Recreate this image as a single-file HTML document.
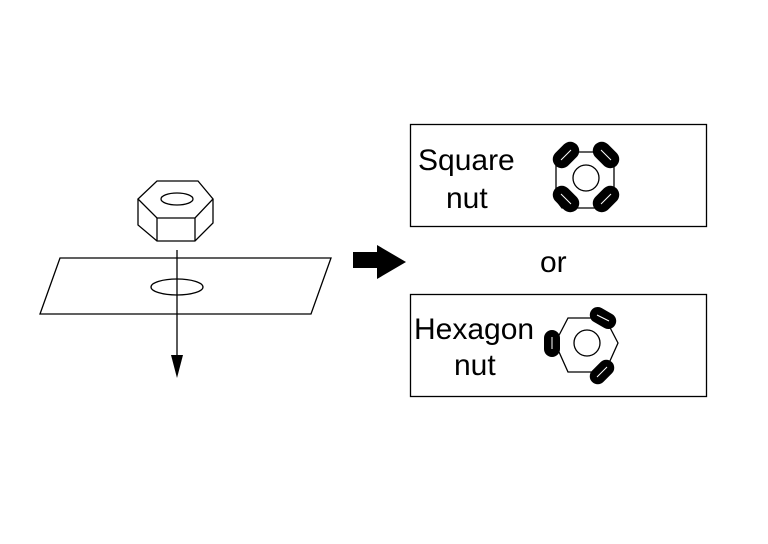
<!DOCTYPE html>
<html><head><style>
html,body{margin:0;padding:0;background:#fff;}
svg{display:block;}
text{font-family:"Liberation Sans",sans-serif;font-size:30px;fill:#000;}
</style></head><body>
<svg width="768" height="544" viewBox="0 0 768 544" xmlns="http://www.w3.org/2000/svg">
<rect width="768" height="544" fill="#fff"/>
<g fill="none" stroke="#000" stroke-width="1.3">
<polygon points="157,181 198,181 213,199 195,218 157,218 138,199" fill="#fff"/>
<polyline points="138,199 138,225 157,241 195,241 213,223 213,199"/>
<line x1="157" y1="218" x2="157" y2="241"/>
<line x1="195" y1="218" x2="195" y2="241"/>
<ellipse cx="177" cy="199" rx="16" ry="6"/>
<polygon points="60,258 331,258 311,314 40,314"/>
<ellipse cx="177" cy="287" rx="26" ry="8"/>
<line x1="177" y1="250" x2="177" y2="358"/>
<rect x="410.5" y="124.5" width="296" height="102"/>
<rect x="410.5" y="294.5" width="296" height="102"/>
<polygon points="562,152 606,152 614,162 614,200 606,208 562,208 556,200 556,162"/>
<circle cx="586" cy="178" r="13"/>
<polygon points="568,318 605,318 618,343 605,372 568,372 555,343"/>
<circle cx="587" cy="343" r="13"/>
</g>
<polygon points="171,355 183,355 177,378" fill="#000"/>
<polygon points="353,252 377,252 377,245 406,262 377,279 377,268 353,268" fill="#000"/>
<g fill="#000">
<rect x="551" y="146" width="30" height="18" rx="9" transform="rotate(-45 566 155)"/>
<rect x="591" y="146" width="30" height="18" rx="9" transform="rotate(45 606 155)"/>
<rect x="551" y="190" width="30" height="18" rx="9" transform="rotate(45 566 199)"/>
<rect x="591" y="190" width="30" height="18" rx="9" transform="rotate(-45 606 199)"/>
<rect x="589" y="310" width="28" height="16" rx="8" transform="rotate(30 603 318)"/>
<rect x="544" y="330" width="16" height="27" rx="8"/>
<rect x="588" y="364" width="28" height="16" rx="8" transform="rotate(-45 602 372)"/>
</g>
<g stroke="#fff" stroke-width="1" fill="none">
<line x1="561" y1="160" x2="571" y2="150"/>
<line x1="601" y1="150" x2="611" y2="160"/>
<line x1="561" y1="194" x2="571" y2="204"/>
<line x1="601" y1="204" x2="611" y2="194"/>
<line x1="597" y1="315" x2="609" y2="321"/>
<line x1="552" y1="337" x2="552" y2="349"/>
<line x1="597" y1="377" x2="607" y2="367"/>
</g>
<text x="418" y="170">Square</text>
<text x="446" y="208">nut</text>
<text x="540" y="272">or</text>
<text x="414" y="339">Hexagon</text>
<text x="454" y="375">nut</text>
</svg>
</body></html>
